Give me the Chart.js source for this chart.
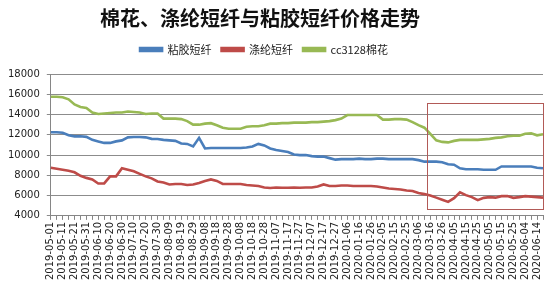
<!DOCTYPE html>
<html><head><meta charset="utf-8">
<script src="https://cdn.jsdelivr.net/npm/chart.js@4/dist/chart.umd.min.js"></script>
<style>html,body{margin:0;padding:0;background:#fff}#wrap{width:550px;height:282px}</style>
</head><body><div id="wrap"><canvas id="c"></canvas></div>
<script>
const titleText = '棉花、涤纶短纤与粘胶短纤价格走势';
const seriesNames = ['粘胶短纤', '涤纶短纤', 'cc3128棉花'];
const dates = [
'2019-05-01','2019-05-06','2019-05-11','2019-05-16','2019-05-21','2019-05-26','2019-05-31',
'2019-06-05','2019-06-10','2019-06-15','2019-06-20','2019-06-25','2019-06-30',
'2019-07-05','2019-07-10','2019-07-15','2019-07-20','2019-07-25','2019-07-30',
'2019-08-04','2019-08-09','2019-08-14','2019-08-19','2019-08-24','2019-08-29',
'2019-09-03','2019-09-08','2019-09-13','2019-09-18','2019-09-23','2019-09-28',
'2019-10-03','2019-10-08','2019-10-13','2019-10-18','2019-10-23','2019-10-28',
'2019-11-02','2019-11-07','2019-11-12','2019-11-17','2019-11-22','2019-11-27',
'2019-12-02','2019-12-07','2019-12-12','2019-12-17','2019-12-22','2019-12-27',
'2020-01-01','2020-01-06','2020-01-11','2020-01-16','2020-01-21','2020-01-26','2020-01-31',
'2020-02-05','2020-02-10','2020-02-15','2020-02-20','2020-02-25',
'2020-03-01','2020-03-06','2020-03-11','2020-03-16','2020-03-21','2020-03-26','2020-03-31',
'2020-04-05','2020-04-10','2020-04-15','2020-04-20','2020-04-25','2020-04-30',
'2020-05-05','2020-05-10','2020-05-15','2020-05-20','2020-05-25','2020-05-30',
'2020-06-04','2020-06-09','2020-06-14','2020-06-19'
];
const viscose = [
12250,12250,12200,11950,11850,11850,11800,11500,11350,11200,
11200,11350,11450,11750,11780,11780,11750,11600,11580,11500,
11450,11400,11150,11100,10850,11700,10650,10700,10700,10700,
10700,10700,10700,10750,10850,11100,10950,10650,10500,10400,
10300,10050,10000,10000,9900,9850,9850,9700,9550,9600,
9600,9600,9650,9600,9600,9650,9650,9600,9600,9600,
9600,9600,9500,9350,9350,9350,9300,9100,9050,8700,
8600,8600,8600,8550,8550,8550,8880,8880,8880,8880,
8880,8880,8750,8700
];
const polyester = [
8750,8650,8550,8450,8300,7950,7750,7600,7200,7200,
7900,7900,8700,8550,8400,8150,7900,7700,7400,7300,
7100,7150,7150,7050,7100,7250,7450,7600,7450,7150,
7150,7150,7150,7050,7000,6950,6800,6750,6800,6780,
6780,6800,6780,6800,6800,6900,7100,6950,6950,7000,
7000,6950,6950,6950,6950,6900,6800,6700,6650,6600,
6500,6450,6250,6150,6000,5800,5600,5380,5750,6330,
6050,5850,5550,5780,5850,5800,5950,5950,5780,5850,
5950,5900,5850,5800
];
const cotton = [
15750,15750,15700,15500,15000,14750,14650,14200,14050,14100,
14150,14200,14200,14300,14250,14200,14050,14100,14100,13600,
13600,13600,13550,13350,13000,13000,13100,13150,12950,12700,
12600,12600,12600,12800,12850,12850,12950,13100,13100,13150,
13150,13200,13200,13200,13250,13250,13300,13350,13450,13600,
13950,13950,13950,13950,13950,13950,13500,13500,13550,13550,
13500,13250,12950,12700,12100,11450,11300,11250,11400,11500,
11500,11500,11500,11550,11600,11700,11750,11850,11900,11900,
12100,12150,11950,12050
];
const yTicks = {min: 4000, max: 18000, step: 2000};
const boxRange = {x0: 63.5, x1: 83, y0: 15100, y1: 4630};

const boxPlugin = {
  id: 'box',
  afterDatasetsDraw(chart) {
    const {ctx, scales: {x, y}} = chart;
    const l = x.getPixelForValue(boxRange.x0), r = x.getPixelForValue(boxRange.x1);
    const t = y.getPixelForValue(boxRange.y0), b = y.getPixelForValue(boxRange.y1);
    ctx.save();
    ctx.strokeStyle = '#b25a57';
    ctx.lineWidth = 1;
    ctx.strokeRect(Math.round(l) + 0.5, Math.round(t) + 0.5, Math.round(r - l), Math.round(b - t));
    ctx.restore();
  }
};

const layoutTweak = {
  id: 'layoutTweak',
  beforeInit(chart) {
    const lg = chart.legend;
    const orig = lg.fit;
    lg.fit = function () { orig.call(this); this.height += 9; };
  },
  afterLayout(chart) {
    const t = chart.titleBlock, lg = chart.legend;
    t.left -= 12; t.right -= 12;
    lg.left -= 8; lg.right -= 8;
  }
};

const mk = (label, data, color) => ({label, data, borderColor: color, backgroundColor: color,
  borderWidth: 2.6, pointRadius: 0, tension: 0, fill: false});

new Chart(document.getElementById('c'), {
  type: 'line',
  data: {labels: dates, datasets: [
    mk(seriesNames[0], viscose, '#4a7ebb'),
    mk(seriesNames[1], polyester, '#be4b48'),
    mk(seriesNames[2], cotton, '#98b954')
  ]},
  options: {
    responsive: true, maintainAspectRatio: false, animation: false,
    layout: {padding: {left: 1, right: 7, top: 0, bottom: 0}},
    plugins: {
      title: {display: true, text: titleText, color: '#111',
        font: {family: '"Noto Sans CJK SC"', size: 20, weight: 'bold'}, padding: {top: 6, bottom: 4}},
      legend: {display: true, labels: {boxWidth: 22, boxHeight: 3, padding: 10, color: '#222',
        font: {family: '"Noto Sans CJK SC"', size: 11}}},
      tooltip: {enabled: false}
    },
    scales: {
      x: {
        offset: false,
        afterFit: (s) => { s.paddingRight = 0; },
        grid: {display: true, drawOnChartArea: false, tickLength: 4, color: '#868686'},
        border: {display: true, color: '#868686'},
        ticks: {autoSkip: false, minRotation: 90, maxRotation: 90, padding: 2, color: '#222',
          font: {family: 'DejaVu Sans', size: 10},
          callback: (v, i) => (i % 2 === 0 ? dates[i] : '')}
      },
      y: {
        min: yTicks.min, max: yTicks.max,
        grid: {color: '#8c8c8c', tickLength: 4},
        border: {display: true, color: '#868686'},
        ticks: {stepSize: yTicks.step, padding: 7, color: '#222', font: {family: 'DejaVu Sans', size: 10},
          callback: v => String(v)}
      }
    }
  },
  plugins: [boxPlugin, layoutTweak]
});
</script></body></html>
